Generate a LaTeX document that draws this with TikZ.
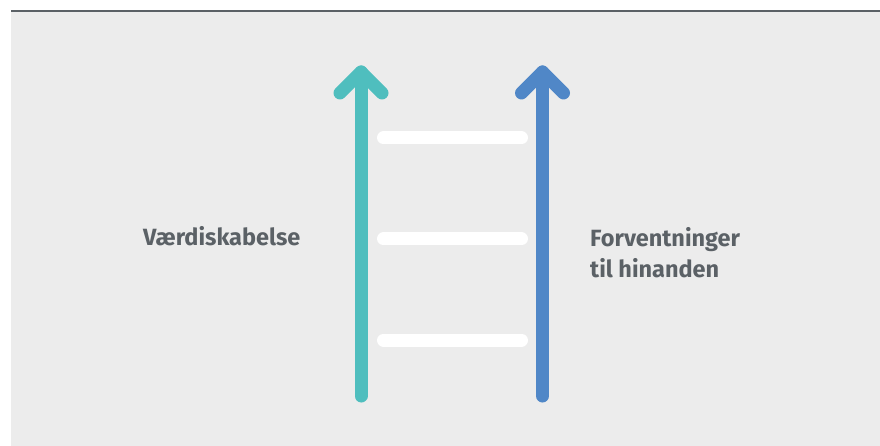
\documentclass[tikz,border=0pt]{standalone}
\usepackage{fontspec}
\setmainfont{Fira Sans}
\definecolor{panelbg}{HTML}{ECECEC}
\definecolor{rulegray}{HTML}{5B6166}
\definecolor{textgray}{HTML}{5B6166}
\definecolor{tealline}{HTML}{4FBEBE}
\definecolor{blueline}{HTML}{5087C7}
\tikzset{
  rail/.style={line width=13pt, line cap=round, line join=round},
  rung/.style={line width=13pt, line cap=round, white},
  label/.style={font=\bfseries\fontsize{23.5}{31}\selectfont, text=textgray, inner sep=0pt, align=left}
}
\begin{document}
\begin{tikzpicture}[x=1pt, y=-1pt]
  \useasboundingbox (0,0) rectangle (880,446);
  % background panel and top rule
  \fill[panelbg] (11,11) rectangle (880,446);
  \fill[rulegray] (11,9.8) rectangle (880,12.4);

  % rails with chevron heads
  \coordinate (tb) at (361,396);
  \coordinate (tt) at (361,72);
  \coordinate (tl) at (340,93);
  \coordinate (tr) at (382,93);
  \draw[rail, tealline] (tb) -- (tt);
  \draw[rail, tealline] (tl) -- (tt) -- (tr);

  \coordinate (bb) at (542.5,396);
  \coordinate (bt) at (542.5,72);
  \coordinate (bl) at (521.5,93);
  \coordinate (br) at (563.5,93);
  \draw[rail, blueline] (bb) -- (bt);
  \draw[rail, blueline] (bl) -- (bt) -- (br);

  % rungs
  \foreach \y/\n in {138/a, 239/b, 340/c} {
    \coordinate (r\n1) at (383.5,\y);
    \coordinate (r\n2) at (521.5,\y);
    \draw[rung] (r\n1) -- (r\n2);
  }

  % labels
  \node[label, anchor=base west] (left) at (143,246) {Værdiskabelse};
  \node[label, anchor=base west] (right) at (590,277) {Forventninger\\til hinanden};
\end{tikzpicture}
\end{document}
